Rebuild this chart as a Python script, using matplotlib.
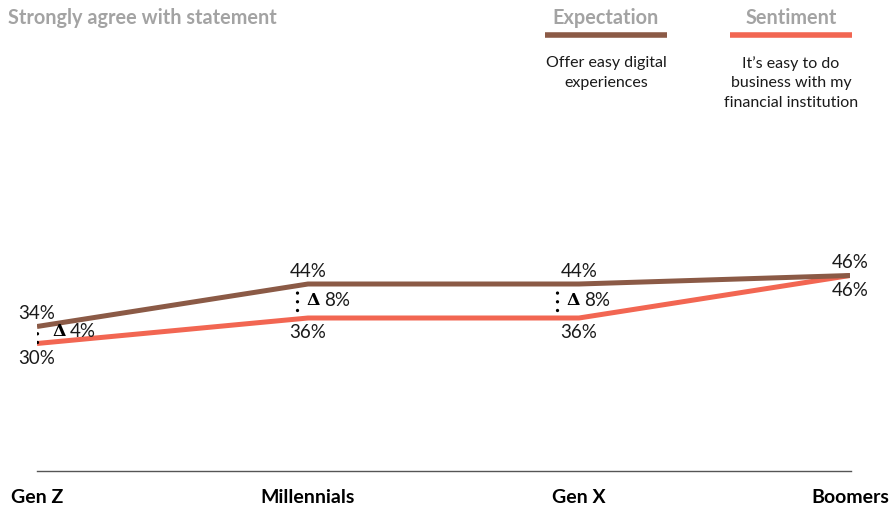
import matplotlib
matplotlib.use("Agg")
import matplotlib.pyplot as plt
from matplotlib.lines import Line2D
from matplotlib.transforms import ScaledTranslation

## Data
generations = ["Gen Z", "Millennials", "Gen X", "Boomers"]
expectation = [34, 44, 44, 46]
sentiment = [30, 36, 36, 46]
gaps = ["4%", "8%", "8%", None]

brown = "#8B5A46"
coral = "#F26652"
grey = "#A3A3A3"

plt.rcParams["font.family"] = ["Lato", "DejaVu Sans"]

fig = plt.figure(figsize=(8.93, 5.06), dpi=100)
ax = fig.add_axes([37 / 893, 34 / 506, 813 / 893, 425 / 506])

x = list(range(len(generations)))
ax.plot(x, expectation, color=brown, lw=3.6, solid_capstyle="butt", zorder=3)
ax.plot(x, sentiment, color=coral, lw=3.6, solid_capstyle="butt", zorder=2)

ax.set_xlim(0, 3)
ax.set_ylim(0, 100)
ax.set_yticks([])
ax.set_xticks(x)
ax.set_xticklabels(generations, fontsize=14, fontweight="bold", color="black")
ax.tick_params(axis="x", length=0, pad=12)
for s in ["top", "right", "left"]:
    ax.spines[s].set_visible(False)
ax.spines["bottom"].set_color("#555555")
ax.spines["bottom"].set_linewidth(1)
ax.spines["bottom"].set_bounds(0, 3.003)
ax.patch.set_alpha(0)

## value labels
for i in x:
    ax.annotate(f"{expectation[i]}%", (i, expectation[i]), xytext=(0, 10),
                textcoords="offset points", ha="center", va="center",
                fontsize=13.5, color="#1a1a1a", annotation_clip=False)
    ax.annotate(f"{sentiment[i]}%", (i, sentiment[i]), xytext=(0, -10),
                textcoords="offset points", ha="center", va="center",
                fontsize=13.5, color="#1a1a1a", annotation_clip=False)

## gap markers
dot_off = [0, -8, -16]
txt_off = [11, -1, -9]
txt_dy = [3, 1, 1]
for i in range(3):
    top = expectation[i]
    bot = sentiment[i]
    mid = (top + bot) / 2
    half = 2.2 if top - bot > 5 else 1.6
    shift = ScaledTranslation(dot_off[i] / 72, 0, fig.dpi_scale_trans)
    ax.plot([i, i], [mid - half, mid + half], color="black", lw=2.4,
            linestyle=(0, (0.01, 2.6)), dash_capstyle="round",
            transform=ax.transData + shift, zorder=4)
    ax.annotate("Δ", (i, mid), xytext=(txt_off[i], txt_dy[i]), textcoords="offset points",
                ha="left", va="center", fontsize=12.5, fontweight="bold",
                family="DejaVu Serif", annotation_clip=False)
    ax.annotate(gaps[i], (i, mid), xytext=(txt_off[i] + 12.5, txt_dy[i]),
                textcoords="offset points", ha="left", va="center",
                fontsize=13.5, color="#1a1a1a", annotation_clip=False)

## title
fig.text(8 / 893, 1 - 18 / 506, "Strongly agree with statement", ha="left",
         va="center", fontsize=14.3, fontweight="bold", color=grey)

## legend
legend = [
    ("Expectation", brown, 545, 667, "Offer easy digital\nexperiences"),
    ("Sentiment", coral, 730, 852, "It\u2019s easy to do\nbusiness with my\nfinancial institution"),
]
for name, col, x0, x1, desc in legend:
    xc = (x0 + x1) / 2 / 893
    fig.text(xc, 1 - 18 / 506, name, ha="center", va="center", fontsize=14.3,
             fontweight="bold", color=grey)
    fig.add_artist(Line2D([x0 / 893, x1 / 893], [1 - 36 / 506] * 2, color=col,
                          lw=4, solid_capstyle="butt", transform=fig.transFigure))
    fig.text(xc, 1 - 56 / 506, desc, ha="center", va="top", fontsize=11.5,
             color="#1a1a1a", linespacing=1.5)

fig.savefig("out.png", dpi=100)
